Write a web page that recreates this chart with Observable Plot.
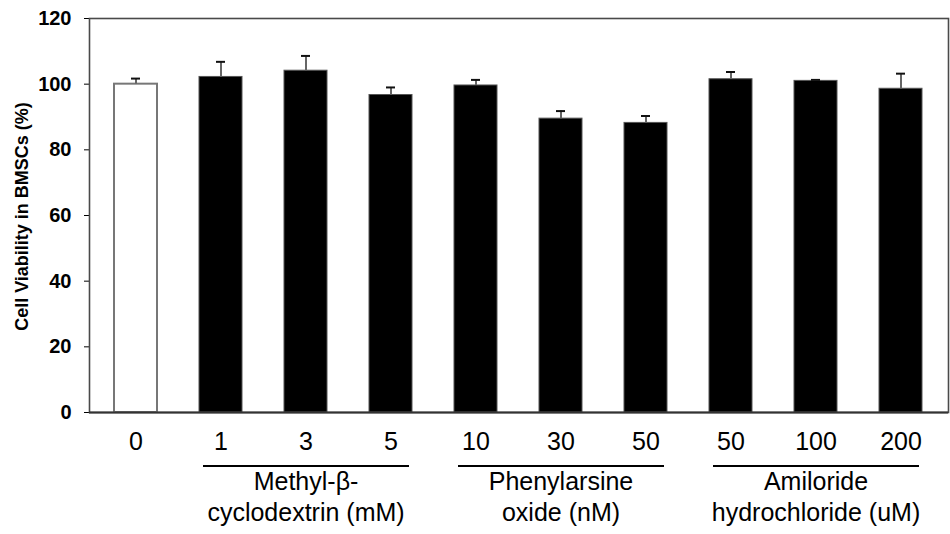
<!DOCTYPE html>
<html>
<head>
<meta charset="utf-8">
<script src="https://cdn.jsdelivr.net/npm/d3@7"></script>
<script src="https://cdn.jsdelivr.net/npm/@observablehq/plot@0.6"></script>
<style>
  html, body { margin: 0; padding: 0; background: #fff; }
  #chart { width: 950px; height: 534px; }
</style>
</head>
<body>
<div id="chart"></div>
<script>
// ---- data ----
const tickLabels = ["0", "1", "3", "5", "10", "30", "50", "50", "100", "200"];
const viability  = [100.0, 102.2, 104.1, 96.7, 99.6, 89.5, 88.2, 101.5, 101.0, 98.6];
const errors     = [1.7, 4.6, 4.5, 2.3, 1.7, 2.3, 2.1, 2.2, 0.3, 4.6];
const groupLine1 = ["Methyl-β-", "Phenylarsine", "Amiloride"];
const groupLine2 = ["cyclodextrin (mM)", "oxide (nM)", "hydrochloride (uM)"];
const groupFirst = [1, 4, 7];
const groupLast  = [3, 6, 9];
const groupMid   = [2, 5, 8];
const yTicks = [0, 20, 40, 60, 80, 100, 120];
const yLabel = "Cell Viability in BMSCs (%)";

const data = tickLabels.map((t, i) => ({idx: i, label: t, v: viability[i], e: errors[i]}));
const groups = groupLine1.map((g, i) => ({l1: g, l2: groupLine2[i], first: groupFirst[i], last: groupLast[i], mid: groupMid[i]}));

const font = "Arial, 'Liberation Sans', Helvetica, sans-serif";

// underline mark drawn with the x band scale
function groupUnderlines(index, scales, values, dims) {
  const x = scales.x;
  const bw = typeof x.bandwidth === "function" ? x.bandwidth() : x.bandwidth;
  const yBase = dims.height - dims.marginBottom + 54;
  const g = d3.create("svg:g");
  for (const grp of groups) {
    g.append("line")
      .attr("x1", x(grp.first) + 4)
      .attr("x2", x(grp.last) + bw - 3)
      .attr("y1", yBase).attr("y2", yBase)
      .attr("stroke", "#000").attr("stroke-width", 2);
  }
  return g.node();
}

const chart = Plot.plot({
  width: 950,
  height: 534,
  marginLeft: 89,
  marginRight: 2,
  marginTop: 18,
  marginBottom: 122,
  style: {fontFamily: font, fontSize: "18px", fontWeight: "bold", background: "#fff", color: "#000", overflow: "visible"},
  x: {domain: d3.range(tickLabels.length), axis: null, paddingInner: 0.49, paddingOuter: 0.25},
  y: {domain: [0, 120], ticks: yTicks, tickSize: 5, tickPadding: 12, tickFormat: () => "", label: null},
  marks: [
    Plot.frame({stroke: "#4a4a4a", strokeWidth: 1.6}),
    Plot.barY(data, {filter: d => d.idx === 0, x: "idx", y: "v", fill: "#fff", stroke: "#777", strokeWidth: 2}),
    Plot.barY(data, {filter: d => d.idx !== 0, x: "idx", y: "v", fill: "#000", stroke: "#555", strokeWidth: 1}),
    Plot.ruleX(data, {x: "idx", y1: "v", y2: d => d.v + d.e, stroke: "#666", strokeWidth: 2}),
    Plot.tickY(data, {x: "idx", y: d => d.v + d.e, stroke: "#111", strokeWidth: 2, insetLeft: 17, insetRight: 17}),
    Plot.ruleY([0], {stroke: "#333", strokeWidth: 2}),
    // y tick labels
    Plot.text(yTicks, {y: d => d, text: d => String(d), frameAnchor: "left", textAnchor: "end", dx: -18, fontSize: 20, fontWeight: "bold", fill: "#000"}),
    // category numbers
    Plot.text(data, {x: "idx", text: "label", frameAnchor: "bottom", dy: 37, fontSize: 25, fontWeight: "normal", fill: "#000"}),
    // group labels
    Plot.text(groups, {x: "mid", text: "l1", frameAnchor: "bottom", dy: 77, fontSize: 25, fontWeight: "normal", fill: "#000"}),
    Plot.text(groups, {x: "mid", text: "l2", frameAnchor: "bottom", dy: 108, fontSize: 25, fontWeight: "normal", fill: "#000"}),
    groupUnderlines,
    // y axis title
    Plot.text([yLabel], {text: d => d, frameAnchor: "left", textAnchor: "middle", rotate: -90, dx: -67, dy: 1, fontSize: 18, fontWeight: "bold", fill: "#000"})
  ]
});

document.getElementById("chart").appendChild(chart);
</script>
</body>
</html>
